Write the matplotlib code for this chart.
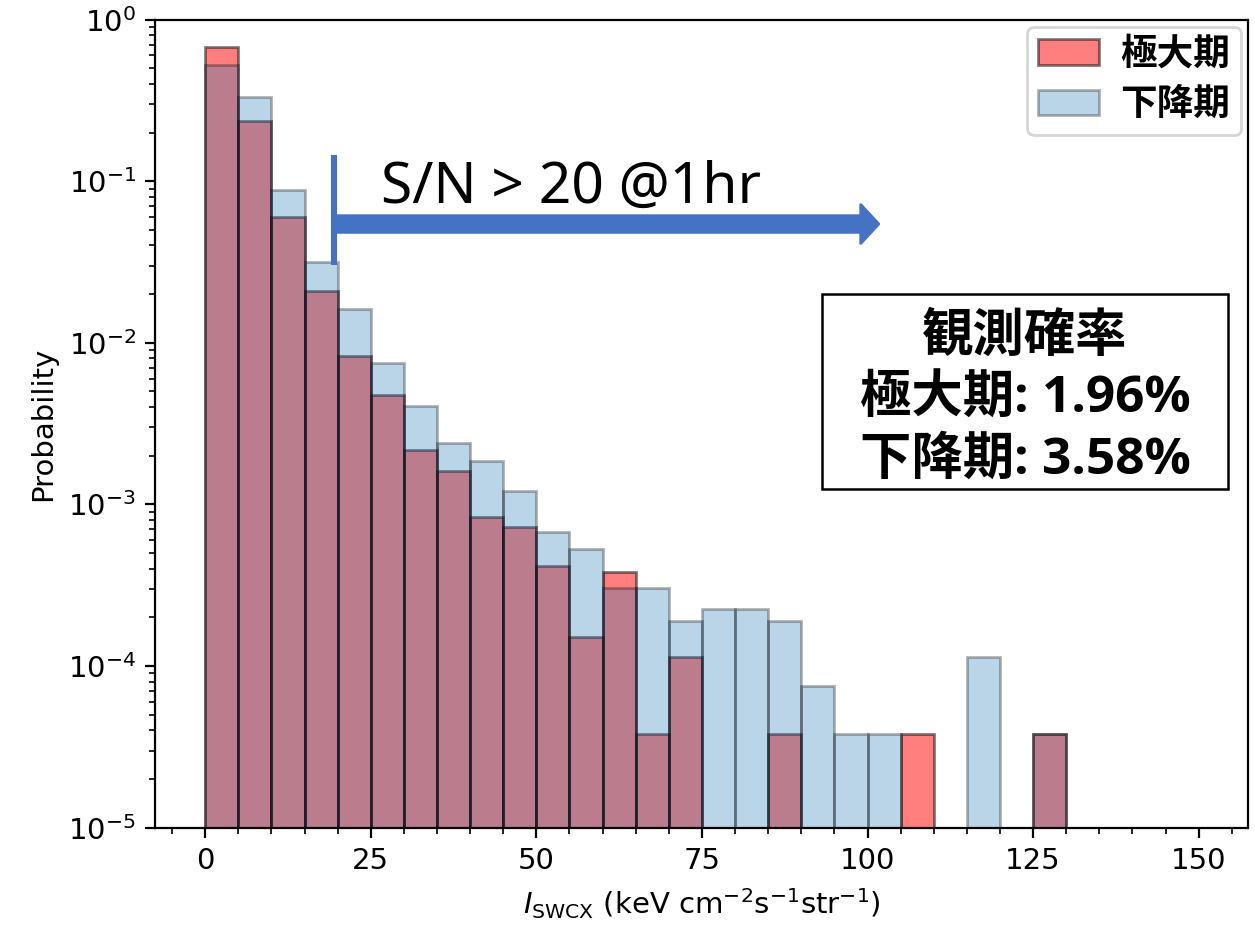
import numpy as np
import matplotlib.pyplot as plt
from matplotlib.patches import Rectangle
from matplotlib.ticker import MultipleLocator

jp = ['Noto Sans', 'Noto Sans CJK JP']
jp_bold = ['Open Sans', 'Noto Sans CJK JP']

# histogram bins (keV cm^-2 s^-1 str^-1)
edges = np.arange(0, 155, 5)
centers = edges[:-1] + 2.5

# probability per bin, solar maximum
p_max = [0.673, 0.2355, 0.0603, 0.0209, 0.00828, 0.00475, 0.00217, 0.00161,
         0.000836, 0.000722, 0.000418, 0.000152, 0.00038, 3.8e-5, 0.000114,
         0, 0, 3.8e-5, 0, 0, 0, 3.8e-5, 0, 0, 0, 3.8e-5, 0, 0, 0, 0]
# probability per bin, declining phase
p_dec = [0.521, 0.332, 0.0878, 0.0315, 0.0161, 0.00747, 0.00406, 0.00239,
         0.00186, 0.00121, 0.000679, 0.00053, 0.000305, 0.000305, 0.000189,
         0.000226, 0.000226, 0.000189, 7.5e-5, 3.8e-5, 3.8e-5, 0, 0, 0.000113,
         0, 3.8e-5, 0, 0, 0, 0]

rate_max = 1.96
rate_dec = 3.58

fig = plt.figure(figsize=(6.275, 4.655), dpi=200)
ax = fig.add_axes([0.1239, 0.111, 0.9947 - 0.1239, 0.979 - 0.111])

ax.hist(centers, bins=edges, weights=p_max, color='red', alpha=0.5,
        edgecolor='k', label='極大期')
ax.hist(centers, bins=edges, weights=p_dec, color='C0', alpha=0.3,
        edgecolor='k', label='下降期')

ax.set_yscale('log')
ax.set_ylim(1e-5, 1)
ax.set_xlim(-7.5, 157.5)
ax.xaxis.set_major_locator(MultipleLocator(25))
ax.xaxis.set_minor_locator(MultipleLocator(5))
ax.tick_params(labelsize=10.5)
ax.set_ylabel('Probability', fontsize=10.5)
ax.set_xlabel(r'$I_{\mathrm{SWCX}}$ (keV cm$^{-2}$s$^{-1}$str$^{-1}$)', fontsize=10.5)

ax.legend(loc='upper right', prop={'family': jp, 'weight': 'bold', 'size': 13.2},
          handlelength=1.66, handletextpad=0.57, labelspacing=0.39,
          borderpad=0.3, borderaxespad=0.2)

# S/N threshold marker
blue = '#4472C4'
ax.plot([19.5, 19.5], [0.0303, 0.145], color=blue, lw=2.2, solid_capstyle='butt')
ax.annotate('', xy=(101.7, 0.0543), xytext=(19.5, 0.0543),
            arrowprops=dict(arrowstyle='simple,head_length=0.65,head_width=1.4,tail_width=0.6',
                            mutation_scale=10, color=blue, shrinkA=0, shrinkB=0))
ax.text(26.6, 0.0733, 'S/N > 20 @1hr', family=jp, fontsize=20.5, va='baseline')

# observation probability box
fig.add_artist(Rectangle((0.655, 0.4748), 0.3235, 0.2094, transform=fig.transFigure,
                         facecolor='white', edgecolor='k', lw=0.9))
fig.text(0.8167, 0.571,
         f'観測確率\n極大期: {rate_max:.2f}%\n下降期: {rate_dec:.2f}%',
         family=jp_bold, fontsize=18.5, fontweight='bold', ha='center', va='center',
         multialignment='center', linespacing=1.3)

fig.savefig('out.png', dpi=200)
